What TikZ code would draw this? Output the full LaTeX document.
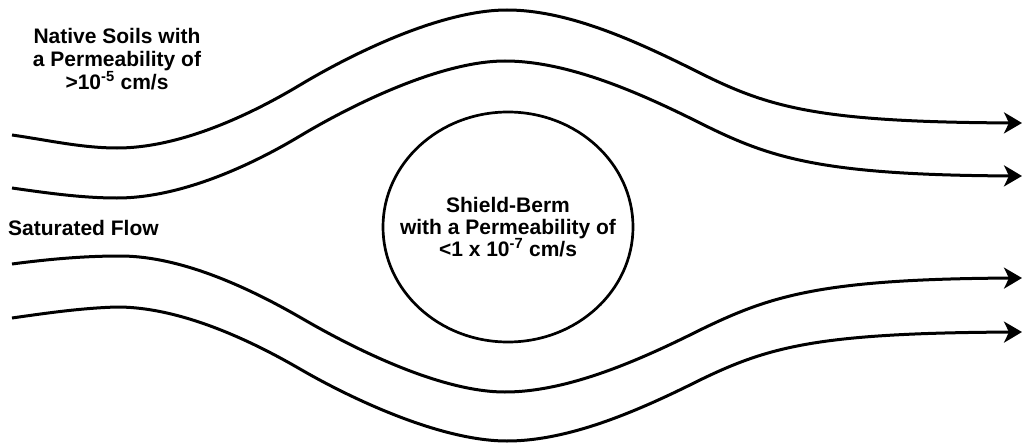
\documentclass[tikz,border=0pt]{standalone}
\usepackage{fontspec}
\setmainfont{Liberation Sans}
\usetikzlibrary{arrows.meta,shapes.geometric}
\begin{document}
\begin{tikzpicture}[x=1pt,y=-1pt,
  flow/.style={line width=3pt,-{Stealth[length=18pt,width=21pt,inset=5pt]}},
  lbl/.style={font=\fontsize{21}{23}\selectfont\bfseries,align=center,inner sep=0pt},
  berm/.style={draw,ellipse,line width=2.7pt,minimum width=250pt,minimum height=230pt,inner sep=0pt}]
\useasboundingbox (0,0) rectangle (1023,444);
% shield berm
\node[berm] (b) at (508,227) {};
\node[lbl,font=\fontsize{21}{22}\selectfont\bfseries] (bt) at (b.center) {Shield-Berm\\with a Permeability of\\<1 x 10\textsuperscript{-7} cm/s};
% labels
\node[lbl] (native) at (117,59) {Native Soils with\\a Permeability of\\>10\textsuperscript{-5} cm/s};
\node[lbl,anchor=west] (sat) at (8,228) {Saturated Flow};
% end points
\coordinate (s1) at (12,135); \coordinate (e1) at (1022,123);
\coordinate (s2) at (12,188); \coordinate (e2) at (1022,176);
\coordinate (s3) at (12,264); \coordinate (e3) at (1022,278);
\coordinate (s4) at (12,318); \coordinate (e4) at (1022,332);
% flow lines
\draw[flow] (s1) .. controls (47,140) and (82,148) .. (117,148)
  .. controls (180,148) and (250,115) .. (300,85)
  .. controls (350,55) and (440,10) .. (507,10)
  .. controls (570,10) and (640,43) .. (700,73)
  .. controls (770,108) and (820,122) .. (e1);
\draw[flow] (s2) .. controls (47,193) and (82,198) .. (117,198)
  .. controls (180,198) and (250,166) .. (300,136)
  .. controls (350,106) and (440,61) .. (505,61)
  .. controls (568,61) and (640,93) .. (700,123)
  .. controls (770,158) and (820,175) .. (e2);
\draw[flow] (s3) .. controls (50,259) and (85,256) .. (120,256)
  .. controls (183,256) and (253,290) .. (303,319)
  .. controls (353,348) and (440,392) .. (505,392)
  .. controls (568,392) and (640,360) .. (700,330)
  .. controls (770,296) and (820,279) .. (e3);
\draw[flow] (s4) .. controls (47,313) and (82,308) .. (117,307)
  .. controls (180,307) and (250,340) .. (300,369)
  .. controls (350,398) and (440,441) .. (507,441)
  .. controls (570,441) and (640,410) .. (700,380)
  .. controls (770,346) and (820,333) .. (e4);
\end{tikzpicture}
\end{document}
